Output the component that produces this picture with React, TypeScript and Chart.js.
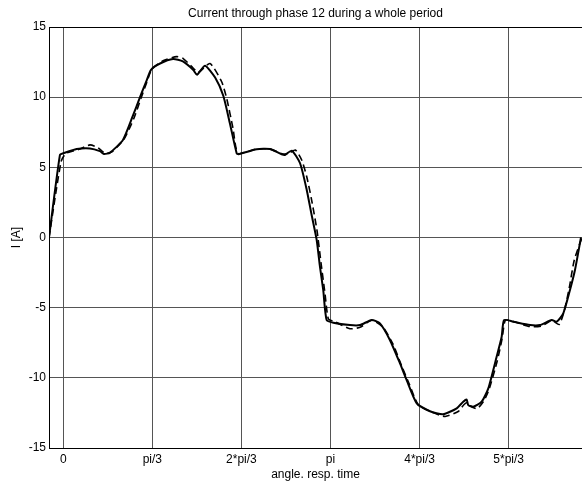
import React, { useEffect, useRef } from "react";
import { Chart, registerables } from "chart.js";

Chart.register(...registerables);

// angle in degrees (axis labelled in multiples of pi/3)
const xTickValues = [0, 60, 120, 180, 240, 300];
const xTickLabels = ["0", "pi/3", "2*pi/3", "pi", "4*pi/3", "5*pi/3"];
const yTickValues = [-15, -10, -5, 0, 5, 10, 15];

const angleSolid = [
  -9.6, -2.2, 0, 9.0, 18.0, 24.7, 27.4, 31.5, 40.2, 47.0, 51.7, 56.2, 59.1, 65.2, 73.9, 80.6,
  87.6, 90.1, 95.5, 102.3, 107.8, 112.3, 116.8, 117.9, 130.3, 139.2, 147.1, 149.3, 153.9, 159.5,
  164.0, 167.3, 170.7, 172.9, 175.1, 177.4, 181.9, 193.1, 199.9, 207.7, 213.3, 220.0, 226.8,
  231.3, 238.1, 247.0, 255.8, 265.0, 269.4, 271.7, 272.8, 276.2, 281.8, 286.3, 291.9, 295.3,
  296.9, 303.1, 314.4, 321.1, 329.0, 332.4, 336.8, 341.3, 344.7, 348.7,
];
const currentSolid = [
  0, 5.9, 6.0, 6.3, 6.35, 6.15, 5.95, 6.05, 6.95, 8.7, 10.0, 11.2, 11.95, 12.4, 12.72, 12.55,
  11.94, 11.6, 12.24, 11.4, 10.1, 8.1, 6.0, 5.93, 6.29, 6.3, 5.93, 5.88, 6.19, 5.29,
  3.39, 1.6, -0.18, -2.08, -3.74, -5.88, -6.07, -6.24, -6.24, -5.88, -6.12, -7.3, -8.97,
  -10.16, -11.82, -12.38, -12.6, -12.17, -11.7, -11.55, -11.94, -12.06, -11.7, -10.75, -8.5, -7.07,
  -5.88, -6.0, -6.24, -6.24, -5.88, -6.0, -5.4, -3.74, -2.3, 0,
];

const angleDashed = [
  -9.6, -1.5, 1.8, 11.2, 18.0, 23.4, 28.1, 32.8, 40.9, 47.6, 52.3, 56.4, 59.7, 67.2, 76.4, 80.8,
  87.6, 90.9, 98.8, 106.7, 110.1, 114.3, 117.7, 129.8, 139.2, 148.0, 152.1, 156.3, 160.6, 164.0,
  167.3, 170.9, 173.6, 176.3, 178.6, 183.0, 193.1, 199.9, 207.9, 215.4, 222.1, 228.1, 232.9,
  239.0, 248.4, 257.2, 266.0, 270.0, 272.1, 274.1, 278.8, 283.5, 286.9, 292.3, 295.6, 297.8,
  303.6, 314.4, 322.4, 329.2, 334.0, 337.5, 340.8, 344.2, 349.4,
];
const currentDashed = [
  0, 5.4, 6.0, 6.3, 6.6, 6.4, 6.0, 6.1, 7.0, 8.5, 9.9, 11.1, 12.0, 12.6, 12.89, 12.75,
  12.06, 11.75, 12.4, 11.1, 9.9, 7.8, 6.0, 6.3, 6.3, 5.95, 6.0, 6.24, 5.52, 4.33,
  2.67, 0.5, -1.8, -4.0, -5.8, -6.0, -6.5, -6.4, -5.9, -6.4, -7.6, -9.2, -10.4,
  -11.9, -12.45, -12.75, -12.4, -11.9, -11.75, -12.0, -12.2, -11.6, -10.8, -8.8, -7.2, -5.9,
  -6.0, -6.35, -6.3, -5.9, -6.2, -5.2, -3.6, -1.6, 0,
];

const FONT = "'Liberation Sans', Arial, Helvetica, sans-serif";

export default function App() {
  const ref = useRef<HTMLCanvasElement | null>(null);

  useEffect(() => {
    if (!ref.current) return;
    Chart.defaults.font.family = FONT;
    const solid = angleSolid.map((x, i) => ({ x, y: currentSolid[i] }));
    const dashed = angleDashed.map((x, i) => ({ x, y: currentDashed[i] }));
    const font = { family: FONT, size: 12, weight: "normal" as const };
    const chart = new Chart(ref.current, {
      type: "scatter",
      data: {
        datasets: [
          {
            data: dashed,
            showLine: true,
            borderColor: "#000",
            borderWidth: 1.6,
            borderDash: [7, 4],
            pointRadius: 0,
            tension: 0.2,
          },
          {
            data: solid,
            showLine: true,
            borderColor: "#000",
            borderWidth: 2,
            pointRadius: 0,
            tension: 0.2,
          },
        ],
      },
      options: {
        responsive: false,
        animation: false,
        layout: { padding: 0 },
        plugins: {
          legend: { display: false },
          tooltip: { enabled: false },
          title: {
            display: true,
            text: "Current through phase 12 during a whole period",
            fullSize: false,
            color: "#000",
            font,
            padding: { top: 6.1, bottom: 6.5 },
          },
        },
        scales: {
          x: {
            type: "linear",
            position: "bottom",
            min: -9.6,
            max: 349.4,
            afterBuildTicks: (s: any) => {
              s.ticks = xTickValues.map((v) => ({ value: v }));
            },
            afterFit: (s: any) => {
              s.height = 37;
            },
            ticks: {
              autoSkip: false,
              maxRotation: 0,
              color: "#000",
              font,
              padding: 4,
              callback: (v: any) => {
                const i = xTickValues.indexOf(Number(v));
                return i >= 0 ? xTickLabels[i] : "";
              },
            },
            grid: { color: "#555", lineWidth: 1, drawTicks: false },
            border: { color: "#000", width: 1 },
            title: {
              display: true,
              text: "angle. resp. time",
              color: "#000",
              font,
              padding: { top: 0, bottom: 3 },
            },
          },
          y: {
            min: -15,
            max: 15,
            afterBuildTicks: (s: any) => {
              s.ticks = yTickValues.map((v) => ({ value: v }));
            },
            afterFit: (s: any) => {
              s.width = 49;
            },
            ticks: { color: "#000", font, padding: 3 },
            grid: {
              color: (c: any) => (c.tick && c.tick.value === 15 ? "#000" : "#555"),
              lineWidth: 1,
              drawTicks: false,
            },
            border: { color: "#000", width: 1 },
            title: {
              display: true,
              text: "I [A]",
              color: "#000",
              font,
              padding: { top: 9.5, bottom: 0 },
            },
          },
        },
      },
    });
    return () => chart.destroy();
  }, []);

  return (
    <div style={{ position: "absolute", left: 0, top: 0, width: 582, height: 485, background: "#fff" }}>
      <canvas ref={ref} width={582} height={485} style={{ display: "block" }} />
    </div>
  );
}
